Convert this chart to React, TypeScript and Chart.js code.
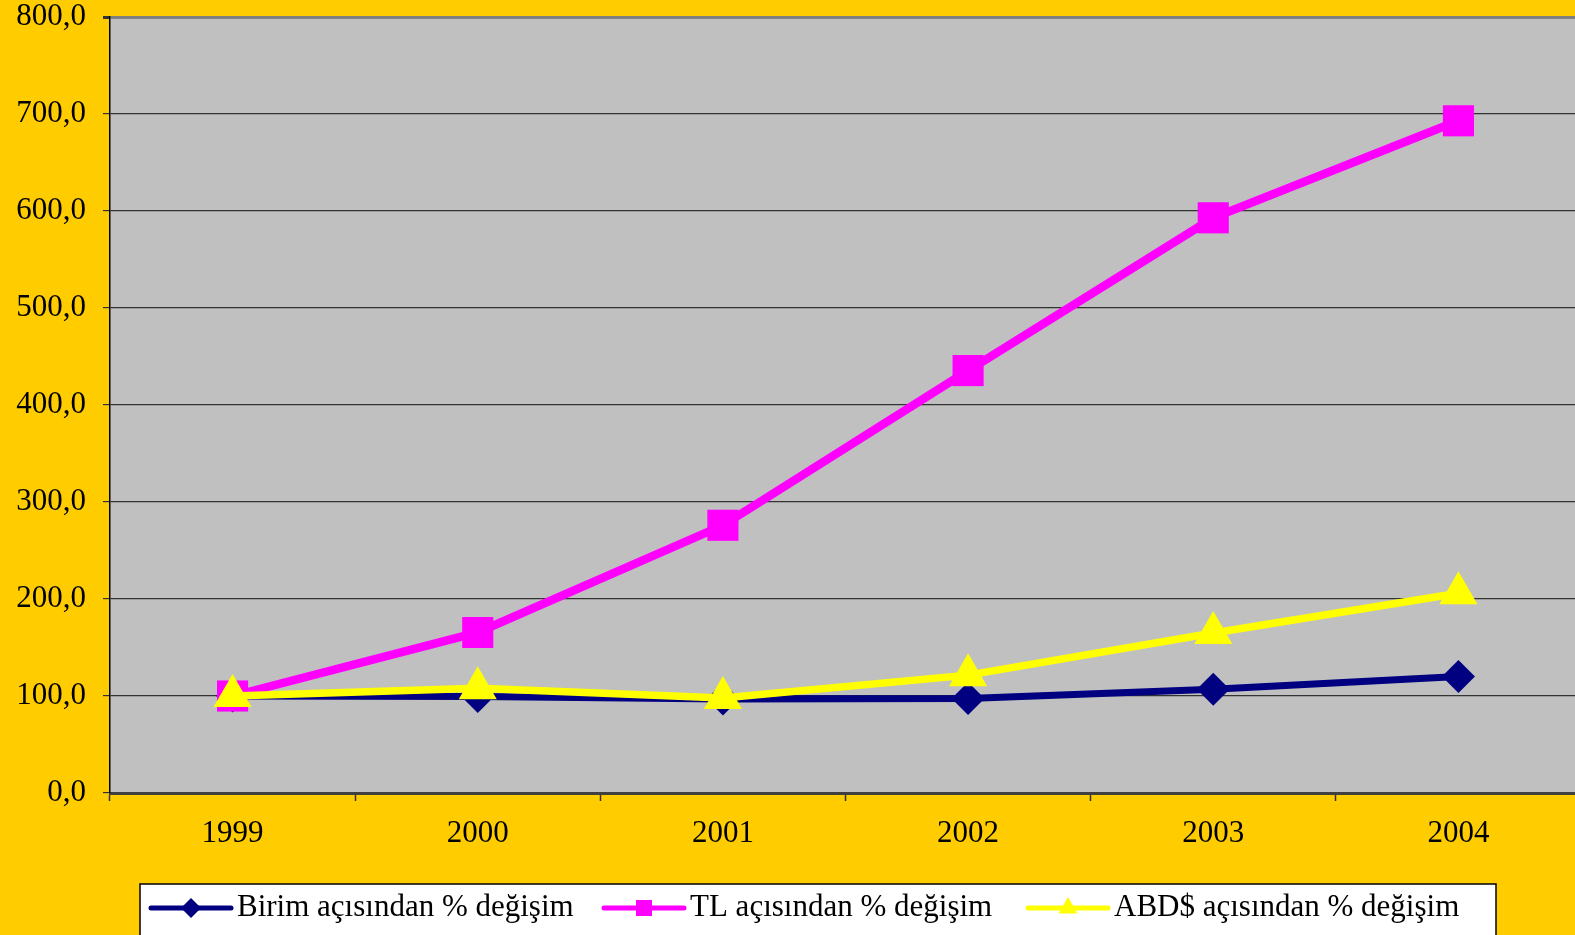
import React, { useEffect, useRef } from "react";
import { Chart, registerables } from "chart.js";

Chart.register(...registerables);

const years = ["1999", "2000", "2001", "2002", "2003", "2004"];
const birim = [100, 99.5, 97, 97.5, 107, 120];
const tl = [100, 165.5, 276, 435.5, 593, 693];
const abd = [100, 108, 98, 121.5, 165, 206];
const seriesNames = [
  "Birim açısından % değişim",
  "TL açısından % değişim",
  "ABD$ açısından % değişim",
];
const yMin = 0;
const yMax = 800;
const yStep = 100;

const FONT = "'Liberation Serif', 'Times New Roman', serif";
const FONT_SIZE = 31;
const CANVAS_W = 1581;
const CANVAS_H = 935;

const bgPlugin = {
  id: "bgPlugin",
  beforeDraw(chart: any) {
    const { ctx, chartArea } = chart;
    ctx.save();
    ctx.fillStyle = "#FFCC00";
    ctx.fillRect(0, 0, chart.width, chart.height);
    ctx.fillStyle = "#C0C0C0";
    ctx.fillRect(chartArea.left, chartArea.top, chartArea.right - chartArea.left, chartArea.bottom - chartArea.top);
    ctx.restore();
  },
};

function drawMarker(ctx: CanvasRenderingContext2D, style: string, x: number, y: number, r: number, color: string) {
  ctx.fillStyle = color;
  ctx.beginPath();
  if (style === "rectRot") {
    ctx.moveTo(x, y - r);
    ctx.lineTo(x + r, y);
    ctx.lineTo(x, y + r);
    ctx.lineTo(x - r, y);
  } else if (style === "rect") {
    ctx.rect(x - r, y - r, 2 * r, 2 * r);
  } else {
    const w = r * Math.sin(Math.PI / 3);
    ctx.moveTo(x, y - r);
    ctx.lineTo(x + w, y + r / 2);
    ctx.lineTo(x - w, y + r / 2);
  }
  ctx.closePath();
  ctx.fill();
}

const legendPlugin = {
  id: "customLegend",
  afterDraw(chart: any) {
    const { ctx } = chart;
    ctx.save();
    const boxL = 140, boxR = 1496, boxT = 884;
    ctx.fillStyle = "#FFFFFF";
    ctx.fillRect(boxL, boxT, boxR - boxL, chart.height - boxT + 10);
    ctx.strokeStyle = "#000000";
    ctx.lineWidth = 1.5;
    ctx.strokeRect(boxL, boxT, boxR - boxL, chart.height - boxT + 10);
    const starts = [151, 604, 1028];
    const y = 908;
    const markerR = [10, 8, 11];
    chart.data.datasets.forEach((ds: any, i: number) => {
      const x0 = starts[i];
      ctx.strokeStyle = ds.borderColor;
      ctx.lineWidth = 5;
      ctx.lineCap = "round";
      ctx.beginPath();
      ctx.moveTo(x0, y);
      ctx.lineTo(x0 + 80, y);
      ctx.stroke();
      drawMarker(ctx, ds.pointStyle, x0 + 40, y, markerR[i], ds.borderColor);
      ctx.fillStyle = "#000000";
      ctx.font = `${FONT_SIZE}px ${FONT}`;
      ctx.textBaseline = "middle";
      ctx.textAlign = "left";
      ctx.fillText(ds.label, x0 + 86, y);
    });
    ctx.restore();
  },
};

export default function App() {
  const ref = useRef<HTMLCanvasElement | null>(null);
  useEffect(() => {
    if (!ref.current) return;
    const chart = new Chart(ref.current, {
      type: "line",
      data: {
        labels: years,
        datasets: [
          {
            label: seriesNames[0],
            data: birim,
            borderColor: "#000080",
            backgroundColor: "#000080",
            borderWidth: 7,
            pointStyle: "rectRot",
            pointRadius: 16.5,
            pointBorderWidth: 0,
            pointBackgroundColor: "#000080",
            order: 2,
          },
          {
            label: seriesNames[1],
            data: tl,
            borderColor: "#FF00FF",
            backgroundColor: "#FF00FF",
            borderWidth: 8.5,
            pointStyle: "rect",
            pointRadius: 22,
            pointBorderWidth: 0,
            pointBackgroundColor: "#FF00FF",
            order: 1,
          },
          {
            label: seriesNames[2],
            data: abd,
            borderColor: "#FFFF00",
            backgroundColor: "#FFFF00",
            borderWidth: 7.5,
            pointStyle: "triangle",
            pointRadius: 22,
            pointBorderWidth: 0,
            pointBackgroundColor: "#FFFF00",
            order: 0,
          },
        ],
      },
      options: {
        responsive: false,
        animation: false,
        layout: { autoPadding: false, padding: { top: 17, right: 0, left: 0, bottom: 82 } },
        plugins: {
          legend: { display: false },
          tooltip: { enabled: false },
        },
        elements: { line: { tension: 0 } },
        scales: {
          x: {
            offset: true,
            grid: {
              offset: true,
              drawOnChartArea: false,
              drawTicks: true,
              tickLength: 8,
              tickColor: "#333333",
              tickWidth: 1.5,
            },
            border: { color: "#404040", width: 3 },
            ticks: {
              color: "#000000",
              padding: 14,
              font: { family: FONT, size: FONT_SIZE },
              maxRotation: 0,
            },
            afterFit(scale: any) {
              scale.height = 60;
              scale.paddingLeft = 0;
              scale.paddingRight = 0;
            },
          },
          y: {
            min: yMin,
            max: yMax,
            grid: {
              color: (c: any) => (c.tick && c.tick.value === yMax ? "#808080" : "#333333"),
              lineWidth: (c: any) => (c.tick && c.tick.value === yMax ? 3 : 1.2),
              tickLength: 7,
              tickColor: "#333333",
            },
            border: { color: "#000000", width: 1.5 },
            ticks: {
              stepSize: yStep,
              color: "#000000",
              padding: 17,
              font: { family: FONT, size: FONT_SIZE },
              callback: (v: any) => Number(v).toFixed(1).replace(".", ","),
            },
            afterFit(scale: any) {
              scale.width = 110;
              scale.paddingTop = 0;
              scale.paddingBottom = 0;
            },
          },
        },
      },
      plugins: [bgPlugin, legendPlugin],
    });
    return () => chart.destroy();
  }, []);
  return (
    <div style={{ position: "absolute", left: 0, top: 0, width: 1575, height: 935, overflow: "hidden" }}>
      <canvas ref={ref} width={CANVAS_W} height={CANVAS_H} style={{ display: "block" }} />
    </div>
  );
}
